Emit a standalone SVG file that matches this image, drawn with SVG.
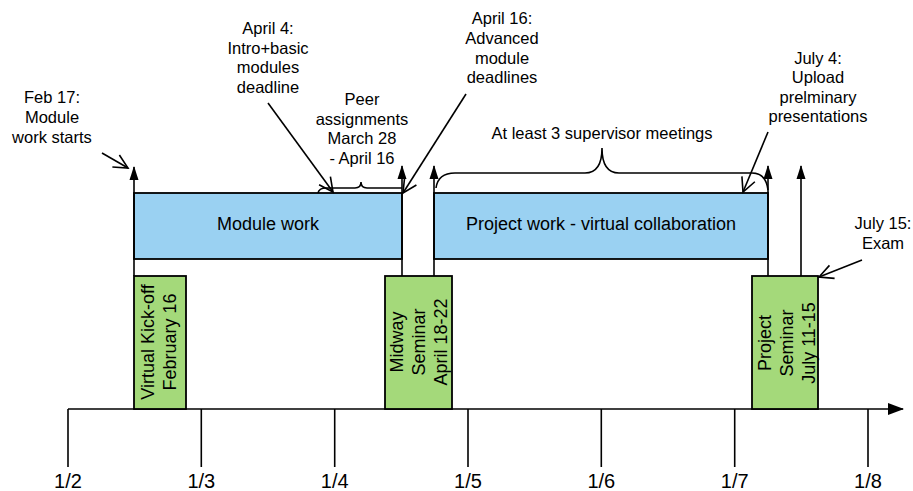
<svg xmlns="http://www.w3.org/2000/svg" width="913" height="491" viewBox="0 0 913 491">
<style>
text{font-family:"Liberation Sans",Arial,sans-serif;fill:#000}
.ann{font-size:16.5px;text-anchor:middle}
.big{font-size:18px;text-anchor:middle}
.ax{font-size:20px;text-anchor:middle}
.blue{fill:#9ad1f2;stroke:#000;stroke-width:1.8}
.green{fill:#a4d97a;stroke:#000;stroke-width:1.8}
.ln{fill:none;stroke:#000;stroke-width:1.6}
.up{marker-end:url(#fill)}
.pt{marker-end:url(#open)}
</style>
<defs>
<marker id="fill" markerUnits="userSpaceOnUse" markerWidth="14" markerHeight="10" viewBox="0 0 14 10" refX="13" refY="5" orient="auto"><path d="M0,0.5 L14,5 L0,9.5 z" fill="#000"/></marker>
<marker id="axh" markerUnits="userSpaceOnUse" markerWidth="16" markerHeight="13" viewBox="0 0 16 13" refX="15" refY="6.5" orient="auto"><path d="M0,0.5 L16,6.5 L0,12.5 z" fill="#000"/></marker>
<marker id="open" markerUnits="userSpaceOnUse" markerWidth="18" markerHeight="18" viewBox="0 0 18 18" refX="16" refY="9" orient="auto"><path d="M2,2 L16,9 L2,16" fill="none" stroke="#000" stroke-width="1.6"/></marker>
</defs>
<rect width="913" height="491" fill="#fff"/>

<g id="axis">
<line class="ln" x1="68" y1="409" x2="903" y2="409" style="marker-end:url(#axh)"/>
<g class="ln">
<line x1="68" y1="409" x2="68" y2="467"/>
<line x1="201.3" y1="409" x2="201.3" y2="467"/>
<line x1="334.7" y1="409" x2="334.7" y2="467"/>
<line x1="468" y1="409" x2="468" y2="467"/>
<line x1="601.3" y1="409" x2="601.3" y2="467"/>
<line x1="734.7" y1="409" x2="734.7" y2="467"/>
<line x1="868" y1="409" x2="868" y2="467"/>
</g>
<text class="ax" x="68" y="488">1/2</text>
<text class="ax" x="201.3" y="488">1/3</text>
<text class="ax" x="334.7" y="488">1/4</text>
<text class="ax" x="468" y="488">1/5</text>
<text class="ax" x="601.3" y="488">1/6</text>
<text class="ax" x="734.7" y="488">1/7</text>
<text class="ax" x="868" y="488">1/8</text>
</g>

<g id="module-work">
<rect class="blue" x="134" y="193" width="268" height="66"/>
<text class="big" x="268" y="230">Module work</text>
</g>
<g id="project-work">
<rect class="blue" x="434" y="193" width="334" height="66"/>
<text class="big" x="601" y="230">Project work - virtual collaboration</text>
</g>

<g id="connectors">
<line class="ln up" x1="134" y1="276" x2="134" y2="167"/>
<line class="ln up" x1="402" y1="276" x2="402" y2="166"/>
<line class="ln up" x1="434" y1="276" x2="434" y2="166"/>
<line class="ln up" x1="768" y1="276" x2="768" y2="166"/>
<line class="ln up" x1="801" y1="276" x2="801" y2="166"/>
<line class="ln pt" x1="102" y1="153" x2="128" y2="168"/>
<line class="ln pt" x1="268" y1="103" x2="333" y2="192"/>
<line class="ln pt" x1="466" y1="94" x2="403" y2="193"/>
<line class="ln pt" x1="768" y1="132" x2="743" y2="192"/>
<line class="ln pt" x1="862" y1="260" x2="819" y2="277"/>
<path class="ln" d="M318,193 Q319,188 326,188 L355,188 Q361,188 361,182 Q361,188 367,188 L402,188"/>
<path class="ln" d="M436,188 Q438,173 455,173 L585,173 Q602,173 602,148 Q602,173 619,173 L752,173 Q766,173 768,190"/>
</g>

<g id="kickoff">
<rect class="green" x="134" y="276" width="52" height="133"/>
<g transform="translate(160,342) rotate(-90)">
<text class="big" x="0" y="-6">Virtual Kick-off</text>
<text class="big" x="0" y="16">February 16</text>
</g>
</g>
<g id="midway">
<rect class="green" x="385" y="276" width="67" height="133"/>
<g transform="translate(419,342) rotate(-90)">
<text class="big" x="0" y="-16">Midway</text>
<text class="big" x="0" y="6">Seminar</text>
<text class="big" x="0" y="28">April 18-22</text>
</g>
</g>
<g id="project-seminar">
<rect class="green" x="752" y="276" width="66" height="133"/>
<g transform="translate(787,343) rotate(-90)">
<text class="big" x="0" y="-16">Project</text>
<text class="big" x="0" y="6">Seminar</text>
<text class="big" x="0" y="28">July 11-15</text>
</g>
</g>

<g id="note-feb17">
<text class="ann" x="52" y="103">Feb 17:</text>
<text class="ann" x="52" y="123">Module</text>
<text class="ann" x="52" y="143">work starts</text>
</g>
<g id="note-april4">
<text class="ann" x="268" y="34">April 4:</text>
<text class="ann" x="268" y="54">Intro+basic</text>
<text class="ann" x="268" y="73">modules</text>
<text class="ann" x="268" y="93">deadline</text>
</g>
<g id="note-peer">
<text class="ann" x="362" y="105">Peer</text>
<text class="ann" x="362" y="125">assignments</text>
<text class="ann" x="362" y="144">March 28</text>
<text class="ann" x="362" y="164">- April 16</text>
</g>
<g id="note-april16">
<text class="ann" x="502" y="24">April 16:</text>
<text class="ann" x="502" y="44">Advanced</text>
<text class="ann" x="502" y="64">module</text>
<text class="ann" x="502" y="83">deadlines</text>
</g>
<g id="note-meetings">
<text class="ann" x="602" y="139">At least 3 supervisor meetings</text>
</g>
<g id="note-july4">
<text class="ann" x="818" y="64">July 4:</text>
<text class="ann" x="818" y="83">Upload</text>
<text class="ann" x="818" y="103">prelminary</text>
<text class="ann" x="818" y="122">presentations</text>
</g>
<g id="note-july15">
<text class="ann" x="883" y="229">July 15:</text>
<text class="ann" x="883" y="249">Exam</text>
</g>
</svg>
